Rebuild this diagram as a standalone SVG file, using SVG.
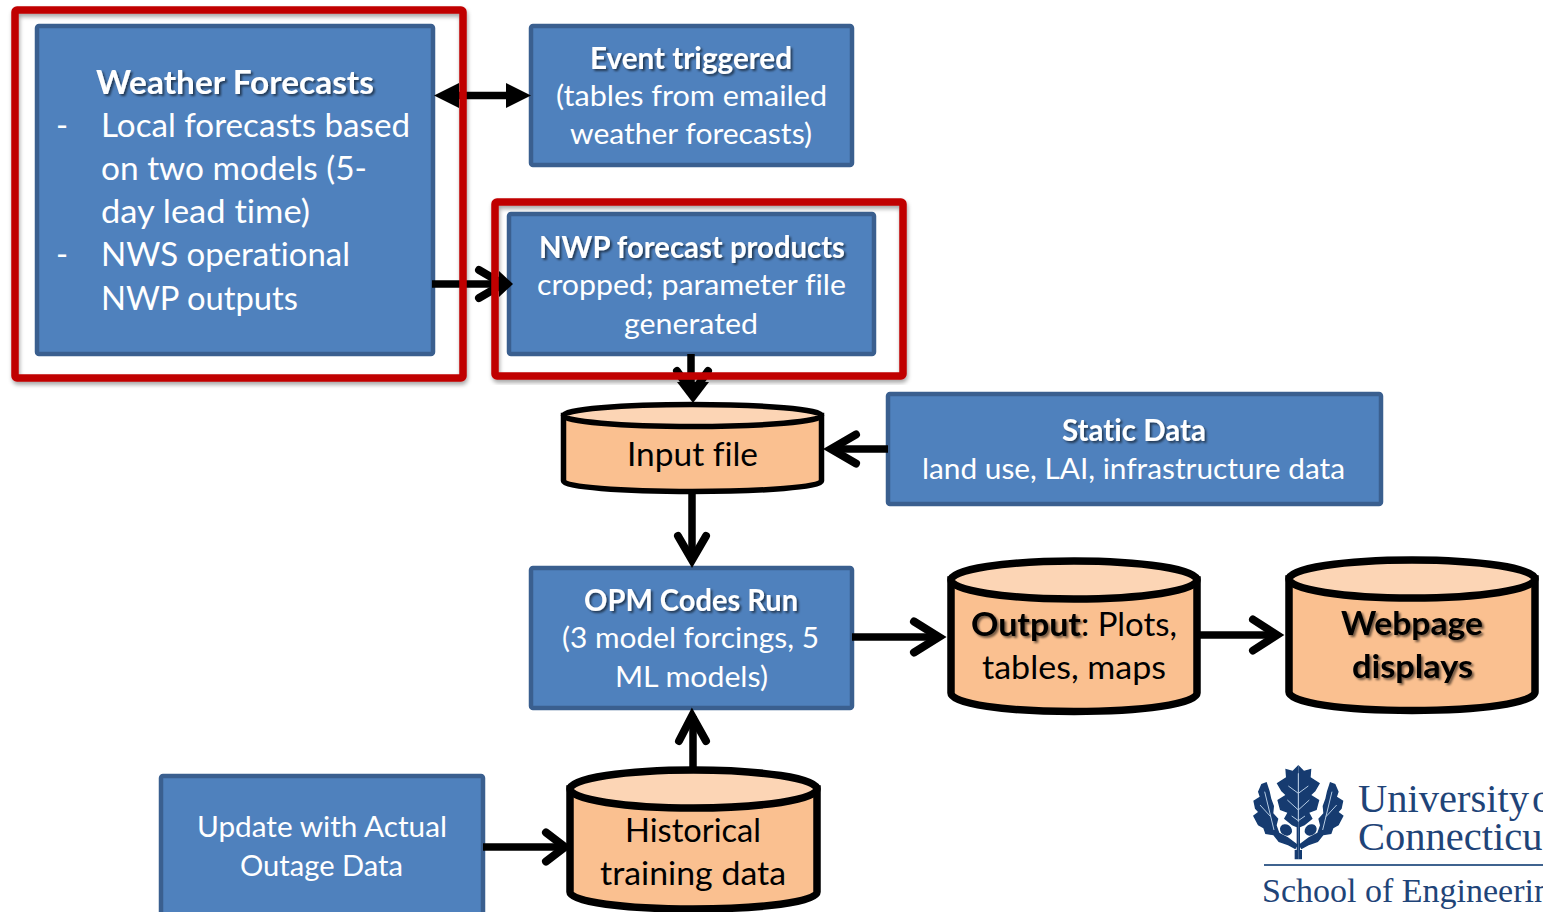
<svg xmlns="http://www.w3.org/2000/svg" xmlns:xlink="http://www.w3.org/1999/xlink" width="1543" height="912" viewBox="0 0 1543 912">
<defs>
<filter id="ts" x="-10%" y="-30%" width="120%" height="170%"><feDropShadow dx="2" dy="2" stdDeviation="1.2" flood-color="#000" flood-opacity="0.55"/></filter>
<filter id="bs" x="-5%" y="-5%" width="110%" height="110%"><feDropShadow dx="1" dy="3" stdDeviation="2" flood-color="#000" flood-opacity="0.35"/></filter>
<filter id="soft"><feGaussianBlur stdDeviation="0.5"/></filter>
</defs>
<style>
text{font-family:Lato,"Liberation Sans",sans-serif;font-variant-ligatures:none}
.blue{fill:#4f81bd;stroke:#3a5f8f;stroke-width:4.5}
.red{fill:none;stroke:#c00000;stroke-width:7.5;filter:url(#bs)}
.w{fill:#fff;font-size:29.5px}
.wl{fill:#fff;font-size:32.5px}
.b{font-weight:700}
.sh{filter:url(#ts)}
.k{fill:#000;font-size:32.5px}
.body{fill:#fac090;stroke:#000}
.top{fill:#fcd5b5;stroke:#000}
.s5{stroke-width:5.500}
.s7{stroke-width:7.5}
.line{fill:none;stroke:#000;stroke-width:7.5}
.head{fill:none;stroke:#000;stroke-width:8;stroke-linecap:round;stroke-linejoin:miter;stroke-miterlimit:8}
.lg{font-family:"Liberation Serif",serif;fill:#1f4478}
</style>
<rect width="1543" height="912" fill="#fff"/>

<g id="weather-forecasts">
<rect class="blue" x="37" y="26" width="396" height="328" rx="2"/>
<text class="wl b sh" x="96" y="94" textLength="278" lengthAdjust="spacingAndGlyphs">Weather Forecasts</text>
<text class="wl" x="56" y="137">-</text>
<text class="wl" x="101" y="137" textLength="309" lengthAdjust="spacingAndGlyphs">Local forecasts based</text>
<text class="wl" x="101" y="180" textLength="266" lengthAdjust="spacingAndGlyphs">on two models (5-</text>
<text class="wl" x="101" y="223" textLength="209" lengthAdjust="spacingAndGlyphs">day lead time)</text>
<text class="wl" x="56" y="266">-</text>
<text class="wl" x="101" y="266" textLength="249" lengthAdjust="spacingAndGlyphs">NWS operational</text>
<text class="wl" x="101" y="310" textLength="197" lengthAdjust="spacingAndGlyphs">NWP outputs</text>
</g>

<g id="event-triggered">
<rect class="blue" x="531" y="26" width="321" height="139" rx="2"/>
<text class="w b sh" x="590" y="69" textLength="202" lengthAdjust="spacingAndGlyphs">Event triggered</text>
<text class="w" x="556" y="106" textLength="271" lengthAdjust="spacingAndGlyphs">(tables from emailed</text>
<text class="w" x="570" y="144" textLength="242" lengthAdjust="spacingAndGlyphs">weather forecasts)</text>
</g>

<g id="nwp-products">
<rect class="blue" x="509" y="214" width="365" height="140" rx="2"/>
<text class="w b sh" x="539" y="258" textLength="306" lengthAdjust="spacingAndGlyphs">NWP forecast products</text>
<text class="w" x="537" y="295" textLength="309" lengthAdjust="spacingAndGlyphs">cropped; parameter file</text>
<text class="w" x="624" y="334" textLength="134" lengthAdjust="spacingAndGlyphs">generated</text>
</g>

<g id="static-data">
<rect class="blue" x="888" y="394" width="493" height="110" rx="2"/>
<text class="w b sh" x="1062" y="441" textLength="144" lengthAdjust="spacingAndGlyphs">Static Data</text>
<text class="w" x="922" y="479" textLength="423" lengthAdjust="spacingAndGlyphs">land use, LAI, infrastructure data</text>
</g>

<g id="opm-codes">
<rect class="blue" x="531" y="568" width="321" height="140" rx="2"/>
<text class="w b sh" x="584" y="611" textLength="214" lengthAdjust="spacingAndGlyphs">OPM Codes Run</text>
<text class="w" x="562" y="648" textLength="257" lengthAdjust="spacingAndGlyphs">(3 model forcings, 5</text>
<text class="w" x="615" y="687" textLength="153" lengthAdjust="spacingAndGlyphs">ML models)</text>
</g>

<g id="update-outage">
<rect class="blue" x="161" y="776" width="322" height="160" rx="2"/>
<text class="w" x="197" y="837" textLength="250" lengthAdjust="spacingAndGlyphs">Update with Actual</text>
<text class="w" x="240" y="876" textLength="163" lengthAdjust="spacingAndGlyphs">Outage Data</text>
</g>

<g id="connectors">
<path class="line" d="M450 95.500H515"/>
<path d="M434 95.500L459 83V108Z"/><path d="M531 95.500L506 83V108Z"/>
<path class="line" d="M432 284H504"/>
<path class="head" d="M479 270L503 284L479 298"/>
<path class="line" d="M691 354V394"/>
<path class="head" d="M677 371L692.500 393L708 371"/>
<path class="line" d="M888 449H832"/>
<path class="head" d="M856 434.500L831 449L856 463.500"/>
<path class="line" d="M692 494V560"/>
<path class="head" d="M678 536L692 560L706 536"/>
<path class="line" d="M852 637H938"/>
<path class="head" d="M914 621.500L939 637L914 652.500"/>
<path class="line" d="M1199 635H1276"/>
<path class="head" d="M1253 619.500L1277 635L1253 650.500"/>
<path class="line" d="M693 770V716"/>
<path class="head" d="M679 741L692 716L706 741"/>
<path class="line" d="M483 847H563"/>
<path class="head" d="M546 832.500L565 847L546 861.500"/>
</g>

<g id="red-box-weather"><rect class="red" x="15" y="10" width="448" height="368" rx="2"/></g>
<g id="red-box-nwp"><rect class="red" x="495" y="202" width="408" height="174" rx="2"/></g>

<g id="arrow-tips">
<path d="M499 271L513 284L499 297Z"/>
<path d="M677 382H709L693 403Z"/>
</g>

<g id="input-file">
<path class="body s5" d="M563.500 415.500V481C563.500 487 621 491.500 692.500 491.500S821.500 487 821.500 481V415.500Z"/>
<ellipse class="top s5" cx="692.500" cy="415.500" rx="129" ry="11"/>
<text class="k" x="627" y="466" textLength="131" lengthAdjust="spacingAndGlyphs">Input file</text>
</g>

<g id="output">
<path class="body s7" d="M951 580V693C951 704 1006 711.500 1074 711.500S1197 704 1197 693V580Z"/>
<ellipse class="top s7" cx="1074" cy="580" rx="123" ry="19"/>
<text class="k b sh" x="971" y="636" textLength="110" lengthAdjust="spacingAndGlyphs">Output</text>
<text class="k" x="1081" y="636" textLength="96" lengthAdjust="spacingAndGlyphs">: Plots,</text>
<text class="k" x="982" y="679" textLength="184" lengthAdjust="spacingAndGlyphs">tables, maps</text>
</g>

<g id="webpage">
<path class="body s7" d="M1289 579V692C1289 703 1344 710.500 1412 710.500S1535 703 1535 692V579Z"/>
<ellipse class="top s7" cx="1412" cy="579" rx="123" ry="19"/>
<text class="k b sh" x="1341" y="635" textLength="142" lengthAdjust="spacingAndGlyphs">Webpage</text>
<text class="k b sh" x="1352" y="678" textLength="121" lengthAdjust="spacingAndGlyphs">displays</text>
</g>

<g id="historical">
<path class="body s7" d="M570 789V892C570 902 625 909 693 909S817 902 817 892V789Z"/>
<ellipse class="top s7" cx="693.500" cy="789" rx="123.500" ry="19"/>
<text class="k" x="625" y="842" textLength="136" lengthAdjust="spacingAndGlyphs">Historical</text>
<text class="k" x="600" y="885" textLength="186" lengthAdjust="spacingAndGlyphs">training data</text>
</g>

<g id="uconn-logo">
<g transform="translate(1240 750) scale(0.3333)" filter="url(#soft)">
<g id="half">
<path fill="#123a70" d="M175 45L192 62L214 56L212 82L240 100L226 124L214 135L238 150L230 180L208 188L218 206L194 226L180 232V300H186V328H175Z"/>
<path fill="#123a70" d="M270 96L286 102L296 125L291 140L310 152L305 176L296 186L311 197L296 226L280 235L274 252L250 256L234 276L206 286L184 298L176 284L206 262L232 248L240 226L235 206L250 190L248 168L256 146L261 124Z"/>
<ellipse fill="#123a70" cx="212" cy="240" rx="19" ry="16" transform="rotate(-35 212 240)"/>
<path stroke="#b9cde4" stroke-width="3" fill="none" d="M175 70V215M175 130L205 108M175 180L208 150M175 212L195 198M248 240L276 125M258 200L290 165"/>
</g>
<use xlink:href="#half" href="#half" transform="translate(350 0) scale(-1 1)"/>
</g>
<text class="lg" x="1358" y="812" font-size="40.500" word-spacing="-7">University o</text>
<text class="lg" x="1358" y="850" font-size="40.500">Connecticu</text>
<rect x="1264" y="864" width="279" height="2" fill="#3f638f"/>
<text class="lg" x="1262" y="902" font-size="34">School of Engineerin</text>
</g>
</svg>
